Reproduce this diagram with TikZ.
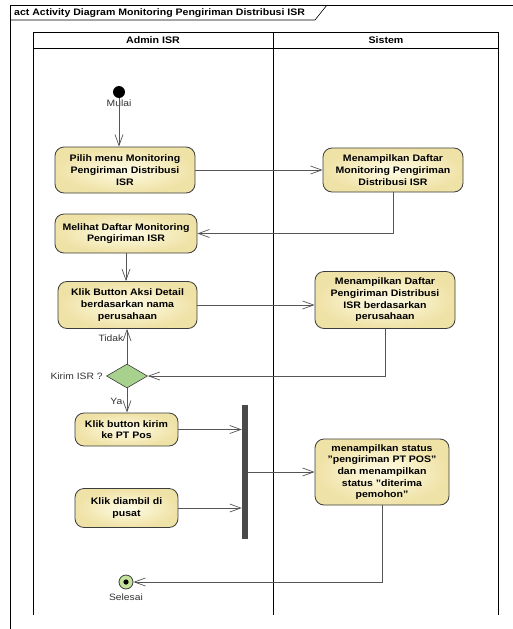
\documentclass[tikz,border=0pt]{standalone}
\usepackage{fontspec}
\setmainfont{Liberation Sans}[FakeStretch=1.12]
\usepackage{tikz}
\usetikzlibrary{
  arrows.meta,
  shapes.geometric,
  positioning,
  calc
}
\definecolor{umlLine}{HTML}{3C3C3C}
\definecolor{umlFlow}{HTML}{555555}
\definecolor{umlActIn}{HTML}{FFFCE6}
\definecolor{umlActOut}{HTML}{EFE2A6}
\definecolor{umlDec}{HTML}{A9D18E}
\definecolor{umlEnd}{HTML}{C3E29A}
\definecolor{umlBar}{HTML}{4A4A4A}
\tikzset{
  action/.style={
    draw=umlLine, line width=0.8pt, rounded corners=9pt,
    inner color=umlActIn, outer color=umlActOut,
    font=\fontsize{9.4}{11.7}\selectfont\bfseries, align=center, inner sep=1pt
  },
  decision/.style={draw=umlLine, line width=0.6pt, diamond, aspect=1.7, fill=umlDec,
    minimum width=41pt, minimum height=24pt, inner sep=0pt},
  initial/.style={circle, fill=black, minimum size=12pt, inner sep=0pt},
  final/.style={circle, draw=umlLine, line width=0.8pt, fill=umlEnd, minimum size=14pt, inner sep=0pt,
    path picture={\fill[black] (path picture bounding box.center) circle (2.6pt);}},
  forkbar/.style={rectangle, fill=umlBar, minimum width=6pt, inner sep=0pt},
  flow/.style={-{Straight Barb[length=11pt,width=8pt]}, draw=umlFlow, line width=0.7pt},
  lane/.style={draw=black, line width=0.6pt},
  lanehead/.style={font=\fontsize{9.5}{11}\selectfont\bfseries},
  tag/.style={font=\fontsize{9.2}{10}\selectfont, text=black!80}
}

\begin{document}
\begin{tikzpicture}[x=1pt, y=-1pt]
  \useasboundingbox (0,0) rectangle (513,629);
  % frame and swimlanes
  \draw[lane] (10,629) -- (10,5) -- (513,5);
  \draw[lane] (10,20) -- (315,20) -- (327,5);
  \node[anchor=west, font=\fontsize{9.4}{10}\selectfont\bfseries, inner sep=0pt] (title) at (14,13)
    {act Activity Diagram Monitoring Pengiriman Distribusi ISR};
  \draw[lane] (33,615) -- (33,32) -- (498,32) -- (498,615);
  \draw[lane] (33,48) -- (498,48);
  \draw[lane] (273,32) -- (273,615);
  \node[lanehead] (laneA) at (153,40) {Admin ISR};
  \node[lanehead] (laneS) at (386,40) {Sistem};

  % actions
  \node[initial] (start) at (119,92) {};
  \node[tag, fill=white, inner sep=0.5pt] (mulai) at (119,103) {Mulai};
  \node[action, minimum width=140pt, minimum height=46pt] (pilih) at (125,170) {Pilih menu Monitoring\\Pengiriman Distribusi\\ISR};
  \node[action, minimum width=140pt, minimum height=44pt] (tampil1) at (393,170) {Menampilkan Daftar\\Monitoring Pengiriman\\Distribusi ISR};
  \node[action, minimum width=142pt, minimum height=39pt] (lihat) at (126,233.5) {Melihat Daftar Monitoring\\Pengiriman ISR};
  \node[action, minimum width=139pt, minimum height=47pt] (detail) at (127.5,305) {Klik Button Aksi Detail\\berdasarkan nama\\perusahaan};
  \node[action, minimum width=140pt, minimum height=57pt] (tampil2) at (385,300) {Menampilkan Daftar\\Pengiriman Distribusi\\ISR berdasarkan\\perusahaan};
  \node[decision] (kirim) at (127,376) {};
  \node[tag, anchor=east] (kirimlbl) at (kirim.west) {Kirim ISR ?};
  \node[action, minimum width=103pt, minimum height=33pt] (pos) at (126.5,429.5) {Klik button kirim\\ke PT Pos};
  \node[action, minimum width=103pt, minimum height=39pt] (pusat) at (126.5,508) {Klik diambil di\\pusat};
  \node[forkbar, minimum height=134pt] (bar) at (245,472) {};
  \node[action, minimum width=134pt, minimum height=66pt] (status) at (382,472) {menampilkan status\\"pengiriman PT POS"\\dan menampilkan\\status "diterima\\pemohon"};
  \node[final] (selesai) at (126,582) {};
  \node[tag, below=1pt of selesai] (selesailbl) {Selesai};

  % flows
  \draw[flow] (start) -- (start |- pilih.north);
  \draw[flow] (pilih.east) -- (tampil1.west);
  \draw[flow] (tampil1.south) |- (lihat.east);
  \draw[flow] (lihat.south) -- (lihat.south |- detail.north);
  \draw[flow] (detail.east) -- (detail.east -| tampil2.west);
  \draw[flow] (tampil2.south) |- (kirim.east);
  \draw[flow] (kirim.north) -- (kirim.north |- detail.south) node[tag, pos=0.72, left=0pt] {Tidak};
  \draw[flow] (kirim.south) -- (kirim.south |- pos.north) node[tag, pos=0.55, left=1pt] {Ya};
  \draw[flow] (pos.east) -- (pos.east -| bar.west);
  \draw[flow] (pusat.east) -- (pusat.east -| bar.west);
  \draw[flow] (bar.east) -- (bar.east -| status.west);
  \draw[flow] (status.south) |- (selesai.east);
\end{tikzpicture}
\end{document}
